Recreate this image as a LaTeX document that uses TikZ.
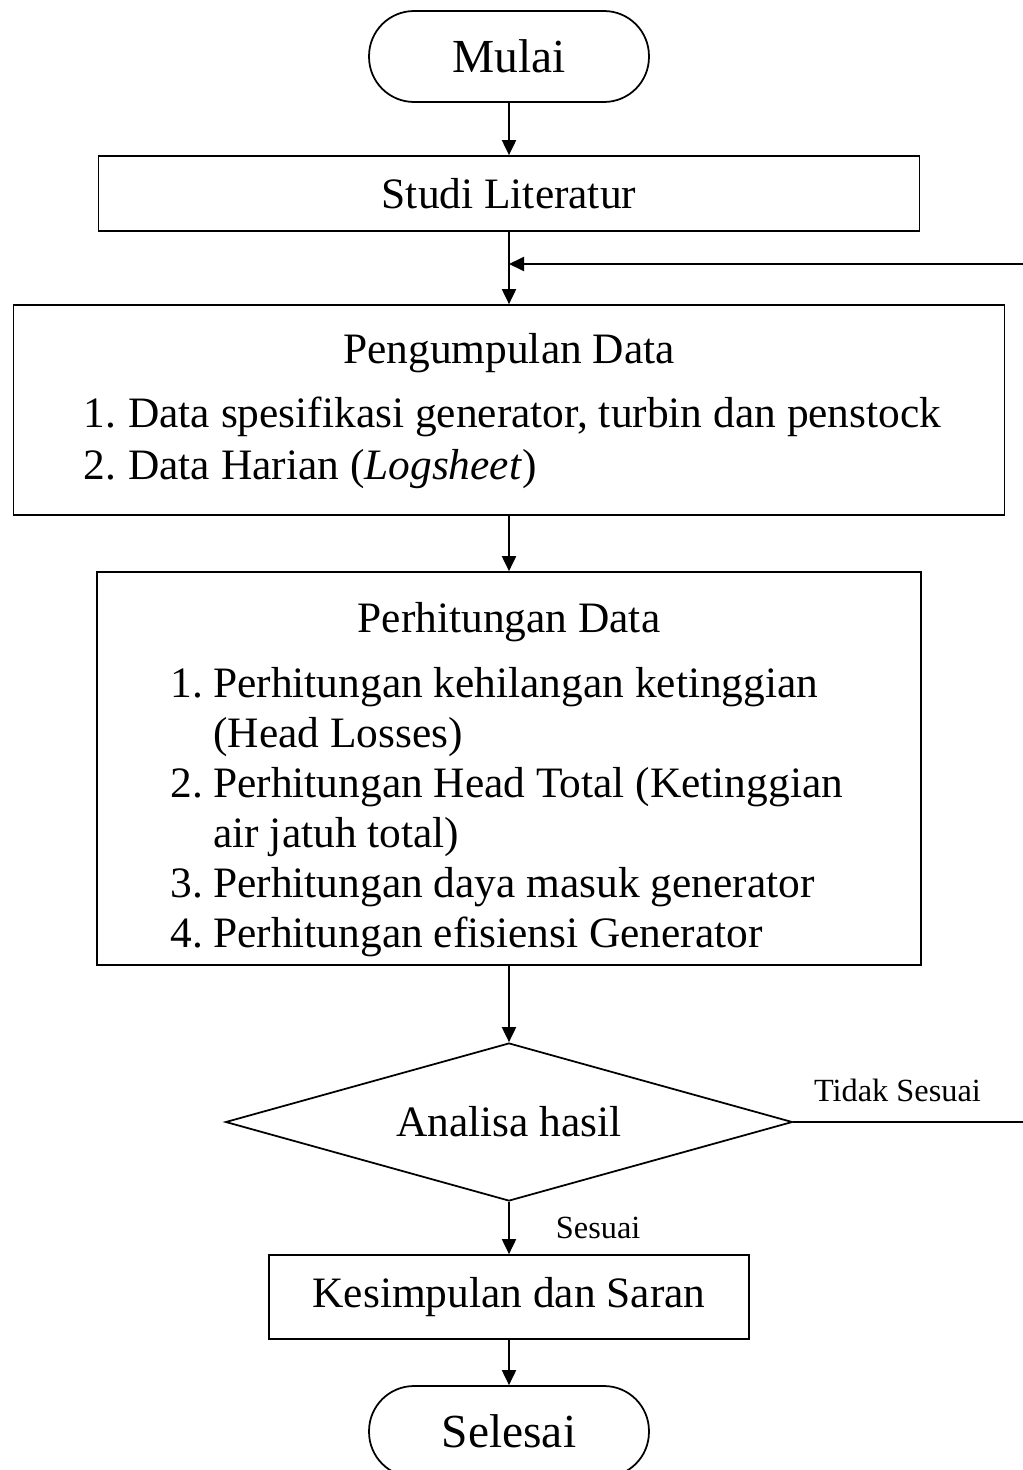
\documentclass[tikz,border=0pt]{standalone}
\usepackage{fontspec}
\setmainfont{Liberation Serif}
\usepackage{tikz}
\usetikzlibrary{arrows.meta, positioning, shapes.geometric}

\begin{document}
\begin{tikzpicture}[
		x=0.02cm, y=-0.02cm,
		term/.style={draw, line width=1pt, rounded corners=0.9cm, minimum width=5.6cm, minimum height=1.82cm, inner sep=0pt, font=\fontsize{27}{32}\selectfont},
		proc/.style={draw, line width=1pt, inner sep=0pt, font=\fontsize{24.7}{28.5}\selectfont},
		dec/.style={draw, diamond, aspect=3.59, line width=1pt, inner sep=0pt, minimum width=11.34cm, minimum height=3.16cm, font=\fontsize{24.7}{28.5}\selectfont},
		txt/.style={inner sep=0pt, font=\fontsize{24.7}{28.5}\selectfont},
		lbl/.style={inner sep=0pt, font=\fontsize{18.4}{22}\selectfont},
		arr/.style={line width=1.1pt, -{Triangle[length=3mm, width=2.8mm]}},
		line/.style={line width=1.1pt}
		]
		\useasboundingbox (0,0) rectangle (1023,1470);
		
		% Flowchart nodes
		\node[term] (mulai) at (509,56.5) {Mulai};
		\node[proc, minimum width=16.42cm, minimum height=1.5cm] (studi) at (509,193.5) {Studi Literatur};
		\node[proc, minimum width=19.82cm, minimum height=4.2cm] (kumpul) at (509,410) {};
		\node[proc, minimum width=16.48cm, minimum height=7.86cm] (hitung) at (509,768.5) {};
		\node[dec] (analisa) at (509,1122) {Analisa hasil};
		\node[proc, minimum width=9.6cm, minimum height=1.68cm] (simpul) at (509,1297) {Kesimpulan dan Saran};
		\node[term] (selesai) at (509,1431.5) {Selesai};
		
		% Box contents
		\node[txt, anchor=base] (kumpulJudul) at (509,363) {Pengumpulan Data};
		\node[txt, anchor=base west, font=\fontsize{24.7}{30}\selectfont] (kumpulIsi) at (83,427) {%
			\begin{tabular}[t]{@{}p{0.9cm}@{}l@{}}
				1. & Data spesifikasi generator, turbin dan penstock\\
				2. & Data Harian (\textit{Logsheet})
		\end{tabular}};
		\node[txt, anchor=base] (hitungJudul) at (509,632) {Perhitungan Data};
		\node[txt, anchor=base west] (hitungIsi) at (170,697) {%
			\begin{tabular}[t]{@{}p{0.86cm}@{}l@{}}
				1. & Perhitungan kehilangan ketinggian\\
				& (Head Losses)\\
				2. & Perhitungan Head Total (Ketinggian\\
				& air jatuh total)\\
				3. & Perhitungan daya masuk generator\\
				4. & Perhitungan efisiensi Generator
		\end{tabular}};
		
		% Connectors
		\draw[arr] (mulai) -- (studi);
		\draw[arr] (studi) -- (kumpul);
		\draw[arr] (kumpul) -- (hitung);
		\draw[arr] (hitung) -- (analisa);
		\draw[arr] (analisa) -- node[lbl, midway, right=0.92cm] (sesuai) {Sesuai} (simpul);
		\draw[arr] (simpul) -- (selesai);
		
		% Loop back when the result does not fit
		\coordinate (balik) at (1030,264);
		\draw[line] (analisa.east) -- node[lbl, pos=0.44, above=0.38cm] (tidak) {Tidak Sesuai} (analisa.east -| balik) -- (balik);
		\draw[arr] (balik) -- (balik -| studi.south);
	\end{tikzpicture}
\end{document}
